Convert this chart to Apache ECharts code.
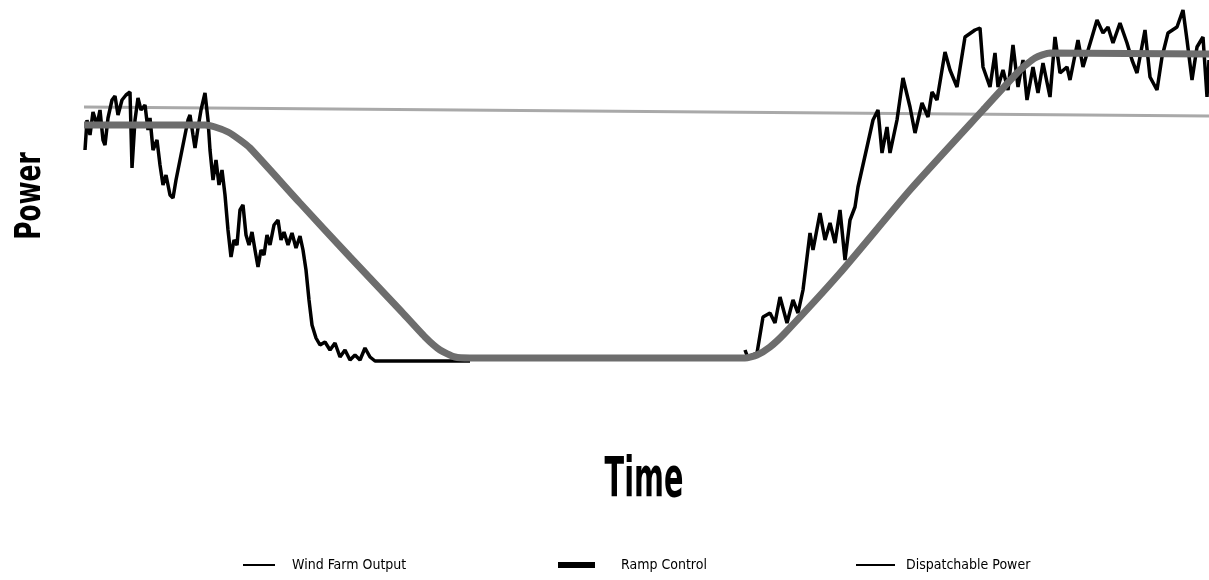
<!DOCTYPE html>
<html>
<head>
<meta charset="utf-8">
<script src="https://cdn.jsdelivr.net/npm/echarts@6/dist/echarts.min.js"></script>
<style>
    html, body { margin: 0; padding: 0; background: #fff; }
    #chart { width: 1209px; height: 580px; }
</style>
</head>
<body>
<div id="chart"></div>
<script>
    // time steps (arbitrary units) and power values
    var windTime = [1, 3, 6, 9, 13, 16, 19, 21, 24, 28, 31, 34, 38, 42, 46, 48, 51, 54, 57, 61, 64, 66, 69, 73, 76, 79, 82, 86, 89, 92, 96, 100, 104, 106, 109, 111, 114, 117, 121, 124, 126, 129, 132, 135, 138, 141, 144, 147, 150, 153, 156, 159, 162, 165, 168, 171, 174, 177, 180, 183, 186, 190, 194, 197, 200, 204, 208, 212, 216, 219, 222, 225, 228, 232, 236, 241, 246, 251, 256, 261, 266, 271, 276, 281, 286, 291, 386, 390,
        661, 664, 668, 673, 679, 686, 691, 696, 703, 709, 714, 719, 726, 729, 736, 741, 746, 751, 756, 761, 766, 771, 774, 783, 789, 794, 798, 803, 806, 813, 819, 826, 831, 838, 844, 848, 853, 861, 866, 873, 881, 891, 896, 899, 906, 911, 914, 919, 924, 929, 934, 939, 943, 949, 954, 959, 966, 971, 976, 983, 986, 994, 999, 1008, 1013, 1019, 1024, 1029, 1036, 1043, 1048, 1053, 1061, 1066, 1073, 1078, 1084, 1093, 1099, 1103, 1108, 1113, 1119, 1123, 1125];
    var windPower = [62.5, 70, 66.25, 72, 68.75, 72.5, 65, 63.75, 70.5, 75, 76, 71.25, 75, 76.25, 77, 58, 70, 75.5, 72.5, 73.75, 67.5, 70.5, 62.5, 65, 58.75, 53.75, 56.25, 51.25, 50.5, 55, 60, 65, 70, 71.25, 66.25, 63, 68, 72.5, 76.75, 70, 62.5, 55, 60, 53.75, 57.5, 51.25, 42.5, 35.75, 40, 38.75, 47.5, 48.75, 41.25, 38.75, 42, 37.5, 33.25, 37.5, 36.25, 41.25, 38.75, 43.75, 45, 40, 42, 38.75, 41.75, 38, 41, 37.5, 32.5, 25, 18.75, 15.5, 13.75, 14.5, 12.5, 14.25, 10.75, 12.5, 10, 11.25, 10, 13, 10.75, 9.75, 9.75, null,
        12.5, 10.5, 11.25, 11.75, 20.75, 21.75, 19.25, 25.75, 19.25, 25, 21.75, 27.5, 41.75, 37.5, 46.75, 40, 44.25, 39.25, 47.5, 35, 45, 48.25, 53.25, 63.25, 70, 72.5, 61.75, 68.25, 61.75, 70, 80.5, 73.25, 66.75, 74.25, 70.75, 77, 75, 87, 82.5, 78.25, 90.75, 92.5, 93, 83.25, 78.25, 86.75, 78.25, 82.5, 77.5, 88.75, 78.25, 85, 75, 83.25, 76.75, 84.25, 75.75, 90.75, 81.75, 83.25, 80, 90, 83.25, 90.75, 95, 91.75, 93.25, 89.25, 94.25, 89.25, 85, 81.75, 92.5, 80.75, 77.5, 85.75, 91.75, 93.25, 97.5, 90, 80, 88.25, 90.75, 75.75, 85];

    var rampTime = [0, 121, 131, 144, 156, 166, 216, 266, 316, 341, 356, 371, 386, 661, 673, 686, 701, 756, 826, 899, 936, 951, 966, 1125];
    var rampPower = [68.75, 68.75, 68.25, 67, 65, 63, 49.25, 35.75, 22.5, 15.75, 12.5, 10.75, 10.5, 10.5, 11.25, 13.25, 16.75, 31.75, 52.5, 72.5, 82.5, 85.5, 86.75, 86.5];

    var dispTime = [0, 1125];
    var dispPower = [73.25, 71];

    var seriesNames = ['Wind Farm Output', 'Ramp Control', 'Dispatchable Power'];

    function pairs(xs, ys) {
        var out = [];
        for (let i = 0; i < xs.length; i++) {
            out.push([xs[i], ys[i]]);
        }
        return out;
    }

    var narrow = "'Liberation Sans Narrow', 'DejaVu Sans Condensed', sans-serif";

    var mychart = echarts.init(document.getElementById('chart'));
    var option = {
        backgroundColor: '#fff',
        animation: false,
        grid: {left: 84, right: 0, top: 0, height: 400},
        xAxis: {
            type: 'value', min: 0, max: 1125,
            axisLine: {show: false}, axisTick: {show: false},
            axisLabel: {show: false}, splitLine: {show: false}
        },
        yAxis: {
            type: 'value', min: 0, max: 100,
            axisLine: {show: false}, axisTick: {show: false},
            axisLabel: {show: false}, splitLine: {show: false}
        },
        legend: [
            {
                data: [{name: seriesNames[0], itemStyle: {color: '#000'}}],
                left: 238, top: 553, icon: 'rect', itemWidth: 32, itemHeight: 2,
                textStyle: {color: '#000', fontSize: 14, fontFamily: narrow, padding: [0, 0, 0, 12]}
            },
            {
                data: [{name: seriesNames[1], itemStyle: {color: '#000'}}],
                left: 553, top: 553, icon: 'rect', itemWidth: 37, itemHeight: 6,
                textStyle: {color: '#000', fontSize: 14, fontFamily: narrow, padding: [0, 0, 0, 21]}
            },
            {
                data: [{name: seriesNames[2], itemStyle: {color: '#000'}}],
                left: 851, top: 553, icon: 'rect', itemWidth: 39, itemHeight: 2,
                textStyle: {color: '#000', fontSize: 14, fontFamily: narrow, padding: [0, 0, 0, 6]}
            }
        ],
        graphic: [
            {
                type: 'text', x: 644, y: 482, scaleX: 0.58, z: 10,
                style: {text: 'Time', font: 'bold 55px ' + narrow, fill: '#000', textAlign: 'center', textVerticalAlign: 'middle'}
            },
            {
                type: 'text', x: 31, y: 196, rotation: Math.PI / 2, scaleX: 0.77, z: 10,
                style: {text: 'Power', font: 'bold 36px ' + narrow, fill: '#000', textAlign: 'center', textVerticalAlign: 'middle'}
            }
        ],
        series: [
            {
                name: seriesNames[2], type: 'line', data: pairs(dispTime, dispPower),
                showSymbol: false, z: 1,
                lineStyle: {color: '#a9a9a9', width: 3}, itemStyle: {color: '#a9a9a9'}
            },
            {
                name: seriesNames[0], type: 'line', data: pairs(windTime, windPower),
                showSymbol: false, connectNulls: false, z: 2,
                lineStyle: {color: '#000', width: 3.5}, itemStyle: {color: '#000'}
            },
            {
                name: seriesNames[1], type: 'line', data: pairs(rampTime, rampPower),
                showSymbol: false, smooth: 0.2, z: 3,
                lineStyle: {color: '#6d6d6d', width: 7}, itemStyle: {color: '#6d6d6d'}
            }
        ]
    };
    mychart.setOption(option);
</script>
</body>
</html>
